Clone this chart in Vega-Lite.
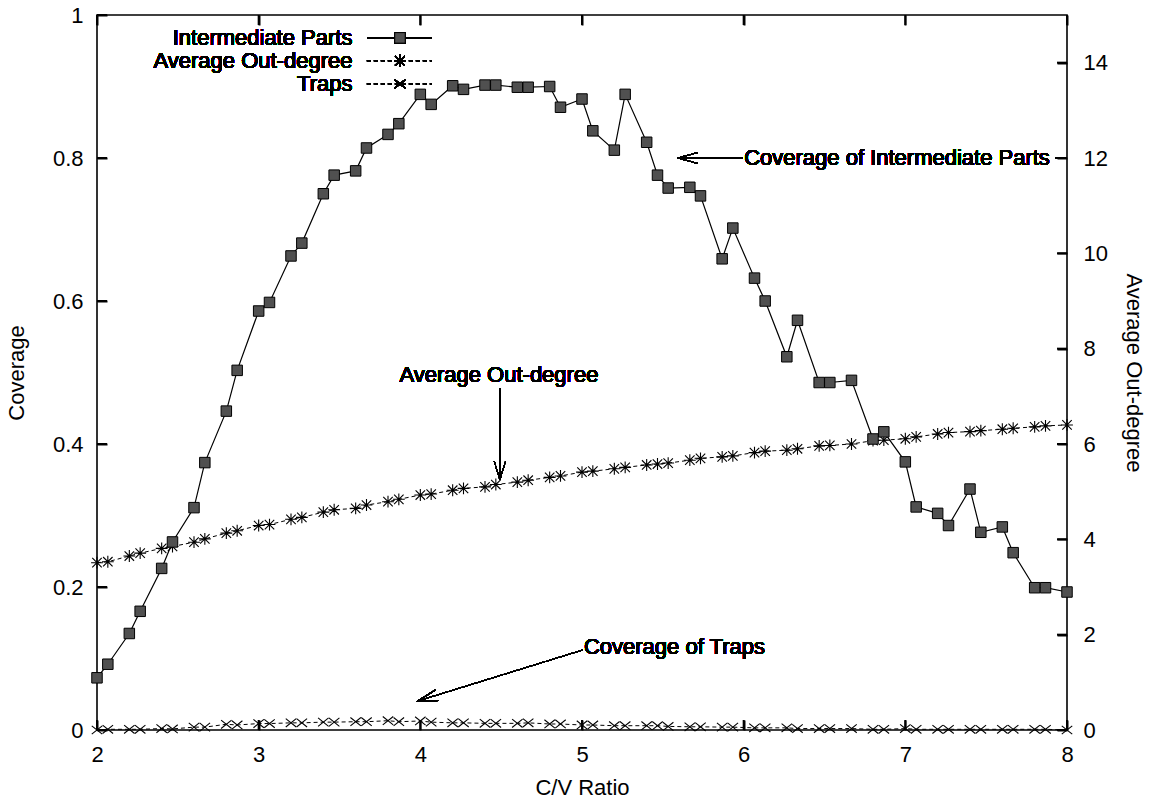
{
  "$schema": "https://vega.github.io/schema/vega-lite/v6.json",
  "width": 970,
  "height": 715,
  "autosize": {"type": "none"},
  "padding": {"left": 97, "top": 15, "right": 88, "bottom": 72},
  "background": "white",
  "config": {
    "font": "Liberation Sans",
    "view": {"stroke": "black", "strokeWidth": 1.6, "fill": "transparent"},
    "axis": {
      "grid": false,
      "domain": false,
      "labelFont": "Liberation Sans",
      "labelFontSize": 22,
      "labelColor": "black",
      "titleFont": "Liberation Sans",
      "titleFontSize": 22,
      "titleFontWeight": "normal",
      "titleColor": "black"
    },
    "text": {"font": "Liberation Sans", "fontSize": 22, "color": "black"}
  },
  "datasets": {
    "ratioTicks": [{"v": 2}, {"v": 3}, {"v": 4}, {"v": 5}, {"v": 6}, {"v": 7}, {"v": 8}],
    "coverageTicks": [{"v": 0}, {"v": 0.2}, {"v": 0.4}, {"v": 0.6}, {"v": 0.8}, {"v": 1}],
    "degreeTicks": [{"v": 0}, {"v": 2}, {"v": 4}, {"v": 6}, {"v": 8}, {"v": 10}, {"v": 12}, {"v": 14}]
  },
  "data": {
    "values": [
      {"ratio": 2.0, "parts": 0.073, "degree": 3.51, "traps": 0.000},
      {"ratio": 2.067, "parts": 0.092, "degree": 3.53, "traps": 0.001},
      {"ratio": 2.2, "parts": 0.135, "degree": 3.65, "traps": 0.001},
      {"ratio": 2.267, "parts": 0.166, "degree": 3.71, "traps": 0.001},
      {"ratio": 2.4, "parts": 0.226, "degree": 3.81, "traps": 0.002},
      {"ratio": 2.467, "parts": 0.263, "degree": 3.85, "traps": 0.0015},
      {"ratio": 2.6, "parts": 0.311, "degree": 3.94, "traps": 0.004},
      {"ratio": 2.667, "parts": 0.374, "degree": 4.01, "traps": 0.004},
      {"ratio": 2.8, "parts": 0.446, "degree": 4.13, "traps": 0.008},
      {"ratio": 2.867, "parts": 0.503, "degree": 4.18, "traps": 0.007},
      {"ratio": 3.0, "parts": 0.586, "degree": 4.29, "traps": 0.009},
      {"ratio": 3.067, "parts": 0.598, "degree": 4.31, "traps": 0.009},
      {"ratio": 3.2, "parts": 0.663, "degree": 4.42, "traps": 0.010},
      {"ratio": 3.267, "parts": 0.681, "degree": 4.46, "traps": 0.010},
      {"ratio": 3.4, "parts": 0.750, "degree": 4.57, "traps": 0.011},
      {"ratio": 3.467, "parts": 0.776, "degree": 4.62, "traps": 0.011},
      {"ratio": 3.6, "parts": 0.782, "degree": 4.65, "traps": 0.0116},
      {"ratio": 3.667, "parts": 0.814, "degree": 4.72, "traps": 0.0116},
      {"ratio": 3.8, "parts": 0.833, "degree": 4.79, "traps": 0.013},
      {"ratio": 3.867, "parts": 0.848, "degree": 4.84, "traps": 0.0116},
      {"ratio": 4.0, "parts": 0.889, "degree": 4.93, "traps": 0.0126},
      {"ratio": 4.067, "parts": 0.875, "degree": 4.95, "traps": 0.011},
      {"ratio": 4.2, "parts": 0.901, "degree": 5.03, "traps": 0.010},
      {"ratio": 4.267, "parts": 0.896, "degree": 5.07, "traps": 0.010},
      {"ratio": 4.4, "parts": 0.902, "degree": 5.10, "traps": 0.0093},
      {"ratio": 4.467, "parts": 0.902, "degree": 5.15, "traps": 0.0093},
      {"ratio": 4.6, "parts": 0.899, "degree": 5.20, "traps": 0.0093},
      {"ratio": 4.667, "parts": 0.899, "degree": 5.24, "traps": 0.010},
      {"ratio": 4.8, "parts": 0.900, "degree": 5.30, "traps": 0.0084},
      {"ratio": 4.867, "parts": 0.871, "degree": 5.33, "traps": 0.0084},
      {"ratio": 5.0, "parts": 0.8825, "degree": 5.41, "traps": 0.007},
      {"ratio": 5.067, "parts": 0.838, "degree": 5.43, "traps": 0.007},
      {"ratio": 5.2, "parts": 0.811, "degree": 5.48, "traps": 0.006},
      {"ratio": 5.267, "parts": 0.889, "degree": 5.51, "traps": 0.006},
      {"ratio": 5.4, "parts": 0.822, "degree": 5.56, "traps": 0.006},
      {"ratio": 5.467, "parts": 0.776, "degree": 5.58, "traps": 0.006},
      {"ratio": 5.533, "parts": 0.758, "degree": 5.60, "traps": 0.005},
      {"ratio": 5.667, "parts": 0.759, "degree": 5.66, "traps": 0.0045},
      {"ratio": 5.733, "parts": 0.747, "degree": 5.70, "traps": 0.0045},
      {"ratio": 5.867, "parts": 0.659, "degree": 5.73, "traps": 0.004},
      {"ratio": 5.933, "parts": 0.702, "degree": 5.75, "traps": 0.004},
      {"ratio": 6.067, "parts": 0.632, "degree": 5.82, "traps": 0.003},
      {"ratio": 6.133, "parts": 0.600, "degree": 5.85, "traps": 0.003},
      {"ratio": 6.267, "parts": 0.522, "degree": 5.87, "traps": 0.003},
      {"ratio": 6.333, "parts": 0.573, "degree": 5.90, "traps": 0.002},
      {"ratio": 6.467, "parts": 0.486, "degree": 5.96, "traps": 0.002},
      {"ratio": 6.533, "parts": 0.486, "degree": 5.97, "traps": 0.002},
      {"ratio": 6.667, "parts": 0.489, "degree": 6.00, "traps": 0.002},
      {"ratio": 6.8, "parts": 0.407, "degree": 6.07, "traps": 0.001},
      {"ratio": 6.867, "parts": 0.417, "degree": 6.08, "traps": 0.001},
      {"ratio": 7.0, "parts": 0.375, "degree": 6.11, "traps": 0.002},
      {"ratio": 7.067, "parts": 0.312, "degree": 6.15, "traps": 0.001},
      {"ratio": 7.2, "parts": 0.303, "degree": 6.21, "traps": 0.001},
      {"ratio": 7.267, "parts": 0.286, "degree": 6.24, "traps": 0.001},
      {"ratio": 7.4, "parts": 0.337, "degree": 6.26, "traps": 0.001},
      {"ratio": 7.467, "parts": 0.2765, "degree": 6.28, "traps": 0.001},
      {"ratio": 7.6, "parts": 0.284, "degree": 6.31, "traps": 0.001},
      {"ratio": 7.667, "parts": 0.248, "degree": 6.33, "traps": 0.001},
      {"ratio": 7.8, "parts": 0.199, "degree": 6.36, "traps": 0.001},
      {"ratio": 7.867, "parts": 0.199, "degree": 6.38, "traps": 0.001},
      {"ratio": 8.0, "parts": 0.193, "degree": 6.40, "traps": 0.000}
    ]
  },
  "layer": [
    {
      "mark": {"type": "line", "color": "black", "strokeWidth": 1.2},
      "encoding": {
        "x": {"field": "ratio", "type": "quantitative", "scale": {"domain": [2, 8], "nice": false},
              "axis": {"orient": "bottom", "title": "C/V Ratio", "values": [2, 3, 4, 5, 6, 7, 8], "format": "d",
                       "ticks": true, "tickSize": 10, "offset": -10, "tickColor": "black", "tickWidth": 2, "tickOpacity": 1,
                       "labelPadding": 14, "labelFlush": false, "zindex": 1, "titlePadding": 12}},
        "y": {"field": "parts", "type": "quantitative", "scale": {"domain": [0, 1], "nice": false},
              "axis": {"orient": "left", "title": "Coverage", "values": [0, 0.2, 0.4, 0.6, 0.8, 1], "format": "~g",
                       "ticks": true, "tickSize": 10, "offset": -10, "tickColor": "black", "tickWidth": 2, "tickOpacity": 1,
                       "labelPadding": 14, "labelFlush": false, "zindex": 1, "titlePadding": 24}}
      }
    },
    {
      "mark": {"type": "line", "color": "black", "strokeWidth": 1, "strokeDash": [4, 3]},
      "encoding": {
        "x": {"field": "ratio", "type": "quantitative",
              "axis": {"orient": "top", "title": null, "labels": false, "values": [2, 3, 4, 5, 6, 7, 8],
                       "ticks": true, "tickSize": 10, "offset": -10, "tickColor": "black", "tickWidth": 2, "tickOpacity": 1, "zindex": 1}},
        "y": {"field": "degree", "type": "quantitative", "scale": {"domain": [0, 15], "nice": false},
              "axis": {"orient": "right", "title": "Average Out-degree", "values": [0, 2, 4, 6, 8, 10, 12, 14],
                       "ticks": true, "tickSize": 10, "offset": -10, "tickColor": "black", "tickWidth": 2, "tickOpacity": 1,
                       "labelPadding": 16, "labelFlush": false, "zindex": 1, "titlePadding": 14}}
      }
    },
    {
      "data": {"name": "ratioTicks"},
      "mark": {"type": "rule", "color": "black", "strokeWidth": 2},
      "encoding": {
        "x": {"field": "v", "type": "quantitative", "axis": null},
        "y": {"datum": 0, "scale": {"domain": [0, 1]}, "axis": null},
        "y2": {"datum": 0.014}
      }
    },
    {
      "data": {"name": "ratioTicks"},
      "mark": {"type": "rule", "color": "black", "strokeWidth": 2},
      "encoding": {
        "x": {"field": "v", "type": "quantitative", "axis": null},
        "y": {"datum": 1, "scale": {"domain": [0, 1]}, "axis": null},
        "y2": {"datum": 0.986}
      }
    },
    {
      "data": {"name": "coverageTicks"},
      "mark": {"type": "rule", "color": "black", "strokeWidth": 2},
      "encoding": {
        "y": {"field": "v", "type": "quantitative", "scale": {"domain": [0, 1], "nice": false}, "axis": null},
        "x": {"datum": 2, "axis": null},
        "x2": {"datum": 2.062}
      }
    },
    {
      "data": {"name": "degreeTicks"},
      "mark": {"type": "rule", "color": "black", "strokeWidth": 2},
      "encoding": {
        "y": {"field": "v", "type": "quantitative", "scale": {"domain": [0, 15], "nice": false}, "axis": null},
        "x": {"datum": 8, "axis": null},
        "x2": {"datum": 7.938}
      }
    },
    {
      "mark": {"type": "point", "shape": "M-1,0L1,0M0,-1L0,1M-0.8,-0.8L0.8,0.8M-0.8,0.8L0.8,-0.8", "filled": false, "color": "black", "strokeWidth": 1.1, "size": 140, "opacity": 1},
      "encoding": {
        "x": {"field": "ratio", "type": "quantitative", "axis": null},
        "y": {"field": "degree", "type": "quantitative", "scale": {"domain": [0, 15], "nice": false}, "axis": null}
      }
    },
    {
      "mark": {"type": "point", "shape": "square", "filled": true, "fill": "#505050", "stroke": "black", "strokeWidth": 1, "size": 110, "opacity": 1},
      "encoding": {
        "x": {"field": "ratio", "type": "quantitative", "axis": null},
        "y": {"field": "parts", "type": "quantitative", "scale": {"domain": [0, 1], "nice": false}, "axis": null}
      }
    },
    {
      "mark": {"type": "line", "color": "black", "strokeWidth": 1, "strokeDash": [4, 3]},
      "encoding": {
        "x": {"field": "ratio", "type": "quantitative", "axis": null},
        "y": {"field": "traps", "type": "quantitative", "scale": {"domain": [0, 1], "nice": false}, "axis": null}
      }
    },
    {
      "mark": {"type": "point", "shape": "M-1,-0.8L1,0.8M-1,0.8L1,-0.8", "filled": false, "color": "black", "strokeWidth": 1.1, "size": 110, "opacity": 1},
      "encoding": {
        "x": {"field": "ratio", "type": "quantitative", "axis": null},
        "y": {"field": "traps", "type": "quantitative", "scale": {"domain": [0, 1], "nice": false}, "axis": null}
      }
    },
    {
      "mark": {"type": "text", "text": "Intermediate Parts", "align": "right", "baseline": "middle"},
      "encoding": {"x": {"datum": 3.58, "axis": null}, "y": {"datum": 0.968, "scale": {"domain": [0, 1]}, "axis": null}}
    },
    {
      "mark": {"type": "text", "text": "Average Out-degree", "align": "right", "baseline": "middle"},
      "encoding": {"x": {"datum": 3.58, "axis": null}, "y": {"datum": 0.936, "scale": {"domain": [0, 1]}, "axis": null}}
    },
    {
      "mark": {"type": "text", "text": "Traps", "align": "right", "baseline": "middle"},
      "encoding": {"x": {"datum": 3.58, "axis": null}, "y": {"datum": 0.9035, "scale": {"domain": [0, 1]}, "axis": null}}
    },
    {
      "mark": {"type": "rule", "color": "black", "strokeWidth": 1.2},
      "encoding": {"x": {"datum": 3.67, "axis": null}, "x2": {"datum": 4.07}, "y": {"datum": 0.968, "scale": {"domain": [0, 1]}, "axis": null}}
    },
    {
      "mark": {"type": "point", "shape": "square", "filled": true, "fill": "#505050", "stroke": "black", "strokeWidth": 1, "size": 110, "opacity": 1},
      "encoding": {"x": {"datum": 3.874, "axis": null}, "y": {"datum": 0.968, "scale": {"domain": [0, 1]}, "axis": null}}
    },
    {
      "mark": {"type": "rule", "color": "black", "strokeWidth": 1, "strokeDash": [4, 3]},
      "encoding": {"x": {"datum": 3.67, "axis": null}, "x2": {"datum": 4.07}, "y": {"datum": 0.936, "scale": {"domain": [0, 1]}, "axis": null}}
    },
    {
      "mark": {"type": "point", "shape": "M-1,0L1,0M0,-1L0,1M-0.8,-0.8L0.8,0.8M-0.8,0.8L0.8,-0.8", "filled": false, "color": "black", "strokeWidth": 1.1, "size": 140, "opacity": 1},
      "encoding": {"x": {"datum": 3.874, "axis": null}, "y": {"datum": 0.936, "scale": {"domain": [0, 1]}, "axis": null}}
    },
    {
      "mark": {"type": "rule", "color": "black", "strokeWidth": 1, "strokeDash": [4, 3]},
      "encoding": {"x": {"datum": 3.67, "axis": null}, "x2": {"datum": 4.07}, "y": {"datum": 0.9035, "scale": {"domain": [0, 1]}, "axis": null}}
    },
    {
      "mark": {"type": "point", "shape": "M-1,-0.8L1,0.8M-1,0.8L1,-0.8", "filled": false, "color": "black", "strokeWidth": 1.1, "size": 110, "opacity": 1},
      "encoding": {"x": {"datum": 3.874, "axis": null}, "y": {"datum": 0.9035, "scale": {"domain": [0, 1]}, "axis": null}}
    },
    {
      "mark": {"type": "text", "text": "Coverage of Intermediate Parts", "align": "left", "baseline": "middle"},
      "encoding": {"x": {"datum": 6.003, "axis": null}, "y": {"datum": 0.8, "scale": {"domain": [0, 1]}, "axis": null}}
    },
    {
      "mark": {"type": "rule", "color": "black", "strokeWidth": 1},
      "encoding": {"x": {"datum": 5.593, "axis": null}, "x2": {"datum": 5.995}, "y": {"datum": 0.8, "scale": {"domain": [0, 1]}, "axis": null}}
    },
    {
      "mark": {"type": "rule", "color": "black", "strokeWidth": 1},
      "encoding": {"x": {"datum": 7.93, "axis": null}, "x2": {"datum": 8.0}, "y": {"datum": 0.8, "scale": {"domain": [0, 1]}, "axis": null}}
    },
    {
      "mark": {"type": "point", "shape": "M2,-0.55L0,0L2,0.55", "filled": false, "color": "black", "strokeWidth": 1, "size": 400, "opacity": 1},
      "encoding": {"x": {"datum": 5.593, "axis": null}, "y": {"datum": 0.8, "scale": {"domain": [0, 1]}, "axis": null}}
    },
    {
      "mark": {"type": "text", "text": "Average Out-degree", "align": "center", "baseline": "middle"},
      "encoding": {"x": {"datum": 4.486, "axis": null}, "y": {"datum": 0.4965, "scale": {"domain": [0, 1]}, "axis": null}}
    },
    {
      "mark": {"type": "rule", "color": "black", "strokeWidth": 1},
      "encoding": {"x": {"datum": 4.492, "axis": null}, "y": {"datum": 0.478, "scale": {"domain": [0, 1]}, "axis": null}, "y2": {"datum": 0.35}}
    },
    {
      "mark": {"type": "point", "shape": "M-0.55,-1.8L0,0L0.55,-1.8", "filled": false, "color": "black", "strokeWidth": 1, "size": 400, "opacity": 1},
      "encoding": {"x": {"datum": 4.492, "axis": null}, "y": {"datum": 0.35, "scale": {"domain": [0, 1]}, "axis": null}}
    },
    {
      "mark": {"type": "text", "text": "Coverage of Traps", "align": "left", "baseline": "middle"},
      "encoding": {"x": {"datum": 5.012, "axis": null}, "y": {"datum": 0.116, "scale": {"domain": [0, 1]}, "axis": null}}
    },
    {
      "mark": {"type": "rule", "color": "black", "strokeWidth": 1},
      "encoding": {"x": {"datum": 5.006, "axis": null}, "x2": {"datum": 3.985}, "y": {"datum": 0.112, "scale": {"domain": [0, 1]}, "axis": null}, "y2": {"datum": 0.0406}}
    },
    {
      "mark": {"type": "point", "shape": "M2,-0.55L0,0L2,0.55", "filled": false, "color": "black", "strokeWidth": 1, "size": 400, "opacity": 1, "angle": 343},
      "encoding": {"x": {"datum": 3.985, "axis": null}, "y": {"datum": 0.0406, "scale": {"domain": [0, 1]}, "axis": null}}
    }
  ],
  "resolve": {"scale": {"y": "independent"}, "axis": {"x": "independent", "y": "independent"}}
}
